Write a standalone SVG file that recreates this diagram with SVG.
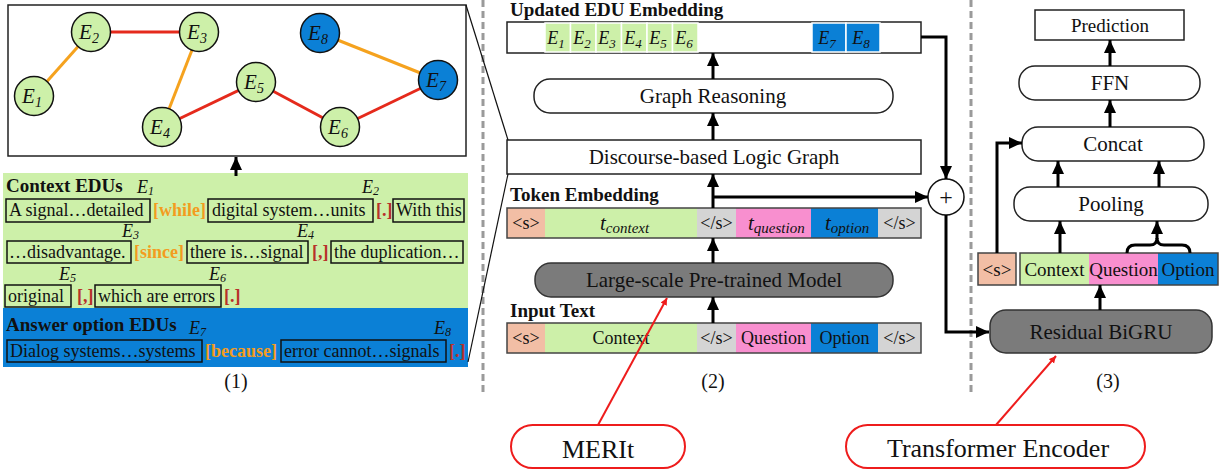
<svg xmlns="http://www.w3.org/2000/svg" width="1225" height="470" viewBox="0 0 1225 470">
  <style>
    text { font-family: "Liberation Serif", "Times New Roman", serif; fill: #111; }
    .t18 { font-size: 18px; }
    .t19 { font-size: 19px; }
    .t21 { font-size: 21px; }
    .hd { font-size: 19px; font-weight: bold; }
    .mid { text-anchor: middle; }
    .it { font-style: italic; }
    .lab { font-size: 18px; font-style: italic; }
    .ob { font-size: 18px; font-weight: bold; fill: #f39c1f; }
    .rb { font-size: 18px; font-weight: bold; fill: #b8312a; }
    .edu { fill: none; stroke: #111; stroke-width: 1.5; }
    .box { fill: #fff; stroke: #222; stroke-width: 1.5; }
    .dark { fill: #7b7b7b; stroke: #333; stroke-width: 1.5; }
    .arr { fill: none; stroke: #000; stroke-width: 3; marker-end: url(#ah); }
    .sep { stroke: #9a9a9a; stroke-width: 3; stroke-dasharray: 7 4; }
    .nodeG { fill: #cdf0a9; stroke: #111; stroke-width: 1.5; }
    .nodeB { fill: #0b80d6; stroke: #111; stroke-width: 1.5; }
    .eR { stroke: #e52a1c; stroke-width: 3; }
    .eO { stroke: #f5a21e; stroke-width: 3; }
    .red { fill: none; stroke: #ee1c1c; stroke-width: 2; }
    .cS { fill: #f2bea5; } .cG { fill: #cdf0a9; } .cN { fill: #d4d4d4; } .cP { fill: #f88fcf; } .cB { fill: #0b80d6; }
  </style>
  <defs>
    <marker id="ah" markerUnits="userSpaceOnUse" markerWidth="14" markerHeight="14" refX="13" refY="7" orient="auto">
      <path d="M0,1 L13,7 L0,13 z" fill="#000"/>
    </marker>
    <marker id="rah" markerUnits="userSpaceOnUse" markerWidth="8" markerHeight="8" refX="7" refY="4" orient="auto">
      <path d="M0,0.5 L7,4 L0,7.5 z" fill="#ee1c1c"/>
    </marker>
  </defs>

  <rect width="1225" height="470" fill="#fff"/>

  <!-- panel separators -->
  <line class="sep" x1="483" y1="0" x2="483" y2="396"/>
  <line class="sep" x1="971" y1="0" x2="971" y2="396"/>

  <!-- ===== (1) discourse graph ===== -->
  <g id="graph-panel">
    <rect x="8" y="5" width="458" height="151" fill="#fff" stroke="#222" stroke-width="1.5"/>
    <g id="graph-edges">
      <line class="eO" x1="34" y1="96" x2="91" y2="32"/>
      <line class="eR" x1="91" y1="32" x2="199" y2="32"/>
      <line class="eO" x1="199" y1="32" x2="162" y2="127"/>
      <line class="eR" x1="162" y1="127" x2="256" y2="82"/>
      <line class="eR" x1="256" y1="82" x2="340" y2="127"/>
      <line class="eR" x1="340" y1="127" x2="438" y2="80"/>
      <line class="eO" x1="320" y1="33" x2="438" y2="80"/>
    </g>
    <g id="n-E1"><circle class="nodeG" cx="34" cy="96" r="19.5"/><text class="t21 it mid" x="32" y="103">E<tspan font-size="14" dy="4">1</tspan></text></g>
    <g id="n-E2"><circle class="nodeG" cx="91" cy="32" r="19.5"/><text class="t21 it mid" x="89" y="39">E<tspan font-size="14" dy="4">2</tspan></text></g>
    <g id="n-E3"><circle class="nodeG" cx="199" cy="32" r="19.5"/><text class="t21 it mid" x="197" y="39">E<tspan font-size="14" dy="4">3</tspan></text></g>
    <g id="n-E4"><circle class="nodeG" cx="162" cy="127" r="19.5"/><text class="t21 it mid" x="160" y="134">E<tspan font-size="14" dy="4">4</tspan></text></g>
    <g id="n-E5"><circle class="nodeG" cx="256" cy="82" r="19.5"/><text class="t21 it mid" x="254" y="89">E<tspan font-size="14" dy="4">5</tspan></text></g>
    <g id="n-E6"><circle class="nodeG" cx="340" cy="127" r="19.5"/><text class="t21 it mid" x="338" y="134">E<tspan font-size="14" dy="4">6</tspan></text></g>
    <g id="n-E7"><circle class="nodeB" cx="438" cy="80" r="19.5"/><text class="t21 it mid" x="436" y="87">E<tspan font-size="14" dy="4">7</tspan></text></g>
    <g id="n-E8"><circle class="nodeB" cx="320" cy="33" r="19.5"/><text class="t21 it mid" x="318" y="40">E<tspan font-size="14" dy="4">8</tspan></text></g>
  </g>

  <!-- context and answer-option EDUs -->
  <g id="edu-panel">
    <rect x="3" y="173" width="465" height="135" fill="#cdf0a9"/>
    <rect x="3" y="308" width="465" height="59" fill="#0b80d6"/>
    <text class="hd" x="6" y="192" font-size="18">Context EDUs</text>

    <!-- row 1 -->
    <text class="lab" x="137" y="193">E<tspan font-size="12" dy="2">1</tspan></text>
    <text class="lab" x="362" y="193">E<tspan font-size="12" dy="2">2</tspan></text>
    <rect class="edu" x="6" y="199" width="144" height="23"/>
    <text class="t18" x="9" y="216">A signal…detailed</text>
    <text class="ob" x="153" y="216">[while]</text>
    <rect class="edu" x="208" y="199" width="165" height="23"/>
    <text class="t18" x="212" y="216">digital system…units</text>
    <text class="rb" x="376" y="216">[.]</text>
    <rect class="edu" x="393" y="199" width="71" height="23"/>
    <text class="t18" x="396" y="216">With this</text>

    <!-- row 2 -->
    <text class="lab" x="122" y="237">E<tspan font-size="12" dy="2">3</tspan></text>
    <text class="lab" x="297" y="237">E<tspan font-size="12" dy="2">4</tspan></text>
    <rect class="edu" x="7" y="241" width="124" height="22"/>
    <text class="t18" x="9" y="258">…disadvantage.</text>
    <text class="ob" x="134" y="258">[since]</text>
    <rect class="edu" x="187" y="241" width="121" height="22"/>
    <text class="t18" x="190" y="258">there is…signal</text>
    <text class="rb" x="312" y="258">[,]</text>
    <rect class="edu" x="331" y="241" width="132" height="22"/>
    <text class="t18" x="334" y="258">the duplication…</text>

    <!-- row 3 -->
    <text class="lab" x="59" y="280">E<tspan font-size="12" dy="2">5</tspan></text>
    <text class="lab" x="209" y="280">E<tspan font-size="12" dy="2">6</tspan></text>
    <rect class="edu" x="5" y="285" width="66" height="22"/>
    <text class="t18" x="8" y="302">original</text>
    <text class="rb" x="77" y="302">[,]</text>
    <rect class="edu" x="95" y="285" width="126" height="22"/>
    <text class="t18" x="98" y="302">which are errors</text>
    <text class="rb" x="224" y="302">[.]</text>

    <!-- answer option -->
    <text class="hd" x="6" y="331" font-size="18">Answer option EDUs</text>
    <text class="lab" x="189" y="334">E<tspan font-size="12" dy="2">7</tspan></text>
    <text class="lab" x="434" y="334">E<tspan font-size="12" dy="2">8</tspan></text>
    <rect class="edu" x="7" y="340" width="195" height="22"/>
    <text class="t18" x="10" y="357">Dialog systems…systems</text>
    <text class="ob" x="205" y="357">[because]</text>
    <rect class="edu" x="281" y="340" width="165" height="22"/>
    <text class="t18" x="284" y="357">error cannot…signals</text>
    <text class="rb" x="449" y="357">[.]</text>

    <text class="mid" x="236" y="388" font-size="20">(1)</text>
  </g>

  <!-- ===== (2) MERIt pipeline ===== -->
  <g id="updated-embedding">
    <text class="hd" x="510" y="16">Updated EDU Embedding</text>
    <rect class="box" x="507" y="22" width="414" height="31"/>
    <g stroke="#fff" stroke-width="1.5">
      <rect class="cG" x="545" y="23" width="25.5" height="29"/>
      <rect class="cG" x="570.5" y="23" width="25.5" height="29"/>
      <rect class="cG" x="596" y="23" width="25.5" height="29"/>
      <rect class="cG" x="621.5" y="23" width="25.5" height="29"/>
      <rect class="cG" x="647" y="23" width="25.5" height="29"/>
      <rect class="cG" x="672.5" y="23" width="25.5" height="29"/>
      <rect class="cB" x="812" y="23" width="34" height="29"/>
      <rect class="cB" x="846" y="23" width="34" height="29"/>
    </g>
    <g class="it" font-size="18">
      <text class="mid" x="556" y="44">E<tspan font-size="13" dy="4">1</tspan></text>
      <text class="mid" x="582" y="44">E<tspan font-size="13" dy="4">2</tspan></text>
      <text class="mid" x="607" y="44">E<tspan font-size="13" dy="4">3</tspan></text>
      <text class="mid" x="633" y="44">E<tspan font-size="13" dy="4">4</tspan></text>
      <text class="mid" x="658" y="44">E<tspan font-size="13" dy="4">5</tspan></text>
      <text class="mid" x="684" y="44">E<tspan font-size="13" dy="4">6</tspan></text>
      <text class="mid" x="827" y="44">E<tspan font-size="13" dy="4">7</tspan></text>
      <text class="mid" x="861" y="44">E<tspan font-size="13" dy="4">8</tspan></text>
    </g>
  </g>

  <g id="graph-reasoning">
    <rect class="box" x="534" y="79" width="359" height="34" rx="16"/>
    <text class="t21 mid" x="713" y="103">Graph Reasoning</text>
  </g>

  <g id="logic-graph">
    <rect class="box" x="507" y="140" width="414" height="34"/>
    <text class="t21 mid" x="714" y="164">Discourse-based Logic Graph</text>
  </g>

  <g id="token-embedding">
    <text class="hd" x="510" y="201">Token Embedding</text>
    <rect class="cS" x="507" y="208" width="38" height="30"/>
    <rect class="cG" x="545" y="208" width="152" height="30"/>
    <rect class="cN" x="697" y="208" width="39" height="30"/>
    <rect class="cP" x="736" y="208" width="75" height="30"/>
    <rect class="cB" x="811" y="208" width="67" height="30"/>
    <rect class="cN" x="878" y="208" width="43" height="30"/>
    <rect x="507" y="208" width="414" height="30" fill="none" stroke="#444" stroke-width="1.5"/>
    <text class="t18 mid" x="526" y="229">&lt;s&gt;</text>
    <text class="t21 it" x="600" y="230">t<tspan font-size="15" dy="3">context</tspan></text>
    <text class="t18 mid" x="716.5" y="229">&lt;/s&gt;</text>
    <text class="t21 it" x="748" y="230">t<tspan font-size="15" dy="3">question</tspan></text>
    <text class="t21 it" x="825" y="230">t<tspan font-size="15" dy="3">option</tspan></text>
    <text class="t18 mid" x="899.5" y="229">&lt;/s&gt;</text>
  </g>

  <g id="plm">
    <rect class="dark" x="535" y="263" width="358" height="34" rx="16"/>
    <text class="t21 mid" x="714" y="287" fill="#1a1a1a">Large-scale Pre-trained Model</text>
  </g>

  <g id="input-text">
    <text class="hd" x="510" y="317">Input Text</text>
    <rect class="cS" x="507" y="323" width="38" height="30"/>
    <rect class="cG" x="545" y="323" width="152" height="30"/>
    <rect class="cN" x="697" y="323" width="39" height="30"/>
    <rect class="cP" x="736" y="323" width="75" height="30"/>
    <rect class="cB" x="811" y="323" width="67" height="30"/>
    <rect class="cN" x="878" y="323" width="43" height="30"/>
    <rect x="507" y="323" width="414" height="30" fill="none" stroke="#444" stroke-width="1.5"/>
    <text class="t18 mid" x="526" y="344">&lt;s&gt;</text>
    <text class="t18 mid" x="621" y="344">Context</text>
    <text class="t18 mid" x="716.5" y="344">&lt;/s&gt;</text>
    <text class="t18 mid" x="773.5" y="344">Question</text>
    <text class="t18 mid" x="844.5" y="344">Option</text>
    <text class="t18 mid" x="899.5" y="344">&lt;/s&gt;</text>
  </g>

  <g id="plus">
    <circle cx="946" cy="197" r="18" fill="#fff" stroke="#111" stroke-width="1.5"/>
    <text class="mid" x="946" y="205" font-size="24">+</text>
  </g>

  <text class="mid" x="713" y="388" font-size="20">(2)</text>

  <!-- ===== (3) classifier head ===== -->
  <g id="prediction">
    <rect class="box" x="1035" y="10" width="149" height="30"/>
    <text class="t19 mid" x="1110" y="32">Prediction</text>
  </g>
  <g id="ffn">
    <rect class="box" x="1019" y="66" width="181" height="34" rx="16"/>
    <text class="t21 mid" x="1110" y="90">FFN</text>
  </g>
  <g id="concat">
    <rect class="box" x="1022" y="127" width="182" height="34" rx="16"/>
    <text class="t21 mid" x="1113" y="151">Concat</text>
  </g>
  <g id="pooling">
    <rect class="box" x="1014" y="187" width="194" height="34" rx="16"/>
    <text class="t21 mid" x="1111" y="211">Pooling</text>
  </g>
  <g id="cls-token">
    <rect class="cS" x="978" y="253" width="38" height="32" stroke="#444" stroke-width="1.5"/>
    <text class="t19 mid" x="997" y="276">&lt;s&gt;</text>
  </g>
  <g id="seq-states">
    <rect class="cG" x="1020" y="253" width="69" height="32"/>
    <rect class="cP" x="1089" y="253" width="69" height="32"/>
    <rect class="cB" x="1158" y="253" width="60" height="32"/>
    <rect x="1020" y="253" width="198" height="32" fill="none" stroke="#444" stroke-width="1.5"/>
    <text class="t19 mid" x="1054.5" y="276">Context</text>
    <text class="t19 mid" x="1123.5" y="276">Question</text>
    <text class="t19 mid" x="1188" y="276">Option</text>
  </g>
  <g id="bigru">
    <rect class="dark" x="990" y="310" width="222" height="43" rx="16"/>
    <text class="t21 mid" x="1101" y="339" fill="#1a1a1a">Residual BiGRU</text>
  </g>
  <text class="mid" x="1108" y="388" font-size="20">(3)</text>

  <!-- callouts -->
  <g id="merit-label">
    <rect class="red" x="511" y="425" width="174" height="43" rx="21.5"/>
    <text class="mid" x="598" y="458" font-size="26">MERIt</text>
  </g>
  <g id="encoder-label">
    <rect class="red" x="846" y="425" width="299" height="43" rx="21.5"/>
    <text class="mid" x="998" y="457" font-size="26">Transformer Encoder</text>
  </g>

  <!-- connectors -->
  <g id="connectors">
    <!-- zoom lines from graph panel to logic graph -->
    <line x1="466" y1="5" x2="508" y2="140" stroke="#111" stroke-width="1.2"/>
    <line x1="508" y1="174" x2="468" y2="362" stroke="#111" stroke-width="1.2"/>

    <path class="arr" d="M236,176 V157"/>

    <path class="arr" d="M713,323 V297"/>
    <path class="arr" d="M713,263 V238"/>
    <path class="arr" d="M713,208 V174"/>
    <path class="arr" d="M713,140 V113"/>
    <path class="arr" d="M713,79 V53"/>
    <path class="arr" d="M713,197 H928"/>
    <path class="arr" d="M921,37 H946 V179"/>
    <path class="arr" d="M946,215 V332 H989"/>

    <path class="arr" d="M1100,310 V285"/>
    <path class="arr" d="M1060,253 V221"/>
    <path fill="none" stroke="#000" stroke-width="3" d="M1127,253 Q1127,245 1135,245 H1150 Q1157,245 1157,238 Q1157,245 1164,245 H1182 Q1190,245 1190,253"/>
    <path class="arr" d="M1157,239 V221"/>
    <path class="arr" d="M1058,187 V161"/>
    <path class="arr" d="M1159,187 V161"/>
    <path class="arr" d="M997,253 V143 H1022"/>
    <path class="arr" d="M1110,127 V100"/>
    <path class="arr" d="M1110,66 V40"/>

    <line x1="598" y1="425" x2="667" y2="298" stroke="#ee1c1c" stroke-width="2" marker-end="url(#rah)"/>
    <line x1="996" y1="425" x2="1056" y2="356" stroke="#ee1c1c" stroke-width="2" marker-end="url(#rah)"/>
  </g>
</svg>
